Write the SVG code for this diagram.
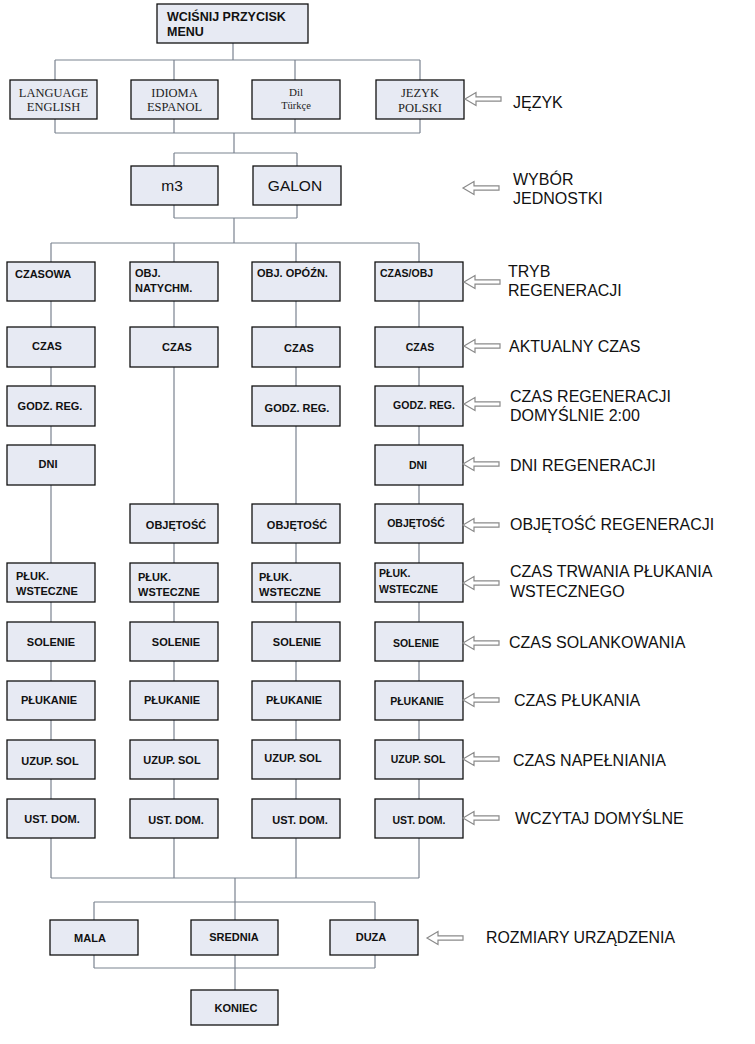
<svg xmlns="http://www.w3.org/2000/svg" xmlns:xlink="http://www.w3.org/1999/xlink" width="755" height="1044" viewBox="0 0 755 1044">
<style>
.b{fill:#e7eaf3;stroke:#111;stroke-width:1.3}
.t{font-family:"Liberation Sans",Arial,sans-serif;font-weight:bold;font-size:11px;fill:#111}
.c{text-anchor:middle}
.s{font-family:"Liberation Serif","Times New Roman",serif;font-size:12.5px;fill:#222;text-anchor:middle}
.u{font-family:"Liberation Sans",Arial,sans-serif;font-size:15.5px;fill:#111;text-anchor:middle}
.l{font-family:"Liberation Sans",Arial,sans-serif;font-size:16px;fill:#111}
.w{fill:none;stroke:#7b8390;stroke-width:1.2}
.a{fill:#fff;stroke:#8a8a8a;stroke-width:1.2}
</style>
<defs>
<polygon id="arr" class="a" points="0,0 11,-6.5 11,-2.2 36,-2.2 36,2.2 11,2.2 11,6.5"/>
</defs>
<rect width="755" height="1044" fill="#fff"/>
<g id="connectors">
<path class="w" d="M233,43V60M55,60H420M55,60V80M174,60V80M295,60V80M420,60V80"/>
<path class="w" d="M55,119V133M174,119V133M295,119V133M420,119V133M55,133H420M234,133V153M174,153H297M174,153V166M297,153V166"/>
<path class="w" d="M174,205V218M297,205V218M174,218H297M234,218V243M51,243H419"/>
<path class="w" d="M51,243V878M174,243V878M296,243V878M419,243V878M51,878H419"/>
<path class="w" d="M235,878V902M94,902H375M94,902V920M235,902V920M375,902V920M94,955V968M375,955V968M94,968H375M235,955V990"/>
</g>
<g id="n-menu"><rect class="b" x="157" y="4" width="151" height="39"/><text class="t" style="font-size:12.5px" x="167" y="21">WCIŚNIJ PRZYCISK</text><text class="t" style="font-size:12.5px" x="167" y="36">MENU</text></g>
<g id="n-en"><rect class="b" x="10" y="80" width="87" height="39"/><text class="s" x="53.5" y="97">LANGUAGE</text><text class="s" x="53.5" y="111">ENGLISH</text></g>
<g id="n-es"><rect class="b" x="131" y="80" width="87" height="39"/><text class="s" x="174.5" y="97">IDIOMA</text><text class="s" x="174.5" y="111">ESPANOL</text></g>
<g id="n-tr"><rect class="b" x="252" y="80" width="88" height="39"/><text class="s" style="font-size:11px" x="296" y="96">Dil</text><text class="s" style="font-size:10.5px" x="296" y="109">Türkçe</text></g>
<g id="n-pl"><rect class="b" x="376" y="80" width="88" height="39"/><text class="s" x="420" y="97">JEZYK</text><text class="s" x="420" y="112">POLSKI</text></g>
<g id="n-m3"><rect class="b" x="131" y="166" width="87" height="39"/><text class="u" x="172" y="191">m3</text></g>
<g id="n-galon"><rect class="b" x="253" y="166" width="88" height="39"/><text class="u" x="295" y="191">GALON</text></g>
<g id="c1-1"><rect class="b" x="7" y="262" width="88" height="39"/><text class="t" x="15" y="278">CZASOWA</text></g>
<g id="c1-2"><rect class="b" x="7" y="327" width="88" height="40"/><text class="t c" x="47" y="350">CZAS</text></g>
<g id="c1-3"><rect class="b" x="7" y="386" width="88" height="40"/><text class="t c" x="50" y="410">GODZ. REG.</text></g>
<g id="c1-4"><rect class="b" x="7" y="445" width="88" height="40"/><text class="t c" x="48" y="468">DNI</text></g>
<g id="c1-6"><rect class="b" x="7" y="563" width="88" height="39"/><text class="t" x="16" y="580">PŁUK.</text><text class="t" x="16" y="595">WSTECZNE</text></g>
<g id="c1-7"><rect class="b" x="7" y="622" width="88" height="39"/><text class="t c" x="51" y="646">SOLENIE</text></g>
<g id="c1-8"><rect class="b" x="7" y="681" width="88" height="39"/><text class="t c" x="49" y="704">PŁUKANIE</text></g>
<g id="c1-9"><rect class="b" x="7" y="740" width="88" height="39"/><text class="t c" x="50" y="765">UZUP. SOL</text></g>
<g id="c1-10"><rect class="b" x="7" y="799" width="88" height="39"/><text class="t c" x="52" y="823">UST. DOM.</text></g>
<g id="c2-1"><rect class="b" x="130" y="262" width="88" height="39"/><text class="t" x="135" y="277">OBJ.</text><text class="t" x="135" y="292">NATYCHM.</text></g>
<g id="c2-2"><rect class="b" x="130" y="327" width="88" height="40"/><text class="t c" x="177" y="351">CZAS</text></g>
<g id="c2-5"><rect class="b" x="130" y="504" width="88" height="39"/><text class="t c" x="176" y="529">OBJĘTOŚĆ</text></g>
<g id="c2-6"><rect class="b" x="130" y="563" width="88" height="39"/><text class="t" x="138" y="581">PŁUK.</text><text class="t" x="138" y="596">WSTECZNE</text></g>
<g id="c2-7"><rect class="b" x="130" y="622" width="88" height="39"/><text class="t c" x="176" y="646">SOLENIE</text></g>
<g id="c2-8"><rect class="b" x="130" y="681" width="88" height="39"/><text class="t c" x="172" y="704">PŁUKANIE</text></g>
<g id="c2-9"><rect class="b" x="130" y="740" width="88" height="39"/><text class="t c" x="172" y="764">UZUP. SOL</text></g>
<g id="c2-10"><rect class="b" x="130" y="799" width="88" height="39"/><text class="t c" x="176" y="824">UST. DOM.</text></g>
<g id="c3-1"><rect class="b" x="252" y="262" width="88" height="39"/><text class="t" x="257" y="277">OBJ. OPÓŹN.</text></g>
<g id="c3-2"><rect class="b" x="252" y="327" width="88" height="40"/><text class="t c" x="299" y="352">CZAS</text></g>
<g id="c3-3"><rect class="b" x="252" y="386" width="88" height="40"/><text class="t c" x="297" y="412">GODZ. REG.</text></g>
<g id="c3-5"><rect class="b" x="252" y="504" width="88" height="39"/><text class="t c" x="297" y="529">OBJĘTOŚĆ</text></g>
<g id="c3-6"><rect class="b" x="252" y="563" width="88" height="39"/><text class="t" x="259" y="581">PŁUK.</text><text class="t" x="259" y="596">WSTECZNE</text></g>
<g id="c3-7"><rect class="b" x="252" y="622" width="88" height="39"/><text class="t c" x="297" y="646">SOLENIE</text></g>
<g id="c3-8"><rect class="b" x="252" y="681" width="88" height="39"/><text class="t c" x="294" y="704">PŁUKANIE</text></g>
<g id="c3-9"><rect class="b" x="252" y="740" width="88" height="39"/><text class="t c" x="293" y="762">UZUP. SOL</text></g>
<g id="c3-10"><rect class="b" x="252" y="799" width="88" height="39"/><text class="t c" x="300" y="824">UST. DOM.</text></g>
<g id="c4-1"><rect class="b" x="375" y="262" width="88" height="39"/><text class="t" style="font-size:10.5px" x="380" y="277">CZAS/OBJ</text></g>
<g id="c4-2"><rect class="b" x="375" y="327" width="88" height="40"/><text class="t c" style="font-size:10.5px" x="420" y="351">CZAS</text></g>
<g id="c4-3"><rect class="b" x="375" y="386" width="88" height="40"/><text class="t c" style="font-size:10.5px" x="424" y="409">GODZ. REG.</text></g>
<g id="c4-4"><rect class="b" x="375" y="445" width="88" height="40"/><text class="t c" style="font-size:10.5px" x="418" y="469">DNI</text></g>
<g id="c4-5"><rect class="b" x="375" y="504" width="88" height="39"/><text class="t c" style="font-size:10.5px" x="416" y="527">OBJĘTOŚĆ</text></g>
<g id="c4-6"><rect class="b" x="375" y="563" width="88" height="39"/><text class="t" style="font-size:10.5px" x="379" y="577">PŁUK.</text><text class="t" style="font-size:10.5px" x="379" y="593">WSTECZNE</text></g>
<g id="c4-7"><rect class="b" x="375" y="622" width="88" height="39"/><text class="t c" style="font-size:10.5px" x="416" y="647">SOLENIE</text></g>
<g id="c4-8"><rect class="b" x="375" y="681" width="88" height="39"/><text class="t c" style="font-size:10.5px" x="417" y="705">PŁUKANIE</text></g>
<g id="c4-9"><rect class="b" x="375" y="740" width="88" height="39"/><text class="t c" style="font-size:10.5px" x="418" y="763">UZUP. SOL</text></g>
<g id="c4-10"><rect class="b" x="375" y="799" width="88" height="39"/><text class="t c" style="font-size:10.5px" x="419" y="824">UST. DOM.</text></g>
<g id="n-mala"><rect class="b" x="50" y="920" width="88" height="35"/><text class="t c" x="90" y="942">MALA</text></g>
<g id="n-srednia"><rect class="b" x="191" y="920" width="87" height="35"/><text class="t c" x="234" y="941">SREDNIA</text></g>
<g id="n-duza"><rect class="b" x="330" y="920" width="88" height="35"/><text class="t c" x="371" y="941">DUZA</text></g>
<g id="n-koniec"><rect class="b" x="191" y="990" width="87" height="35"/><text class="t c" x="236" y="1012">KONIEC</text></g>
<g id="labels">
<use xlink:href="#arr" x="465" y="99"/><text class="l" x="513" y="108">JĘZYK</text>
<use xlink:href="#arr" x="463" y="188"/><text class="l" x="513" y="185">WYBÓR</text><text class="l" x="513" y="204">JEDNOSTKI</text>
<use xlink:href="#arr" x="464" y="282"/><text class="l" x="508" y="277">TRYB</text><text class="l" x="508" y="296">REGENERACJI</text>
<use xlink:href="#arr" x="464" y="346"/><text class="l" x="509" y="352">AKTUALNY CZAS</text>
<use xlink:href="#arr" x="464" y="404"/><text class="l" x="510" y="402">CZAS REGENERACJI</text><text class="l" x="510" y="421">DOMYŚLNIE 2:00</text>
<use xlink:href="#arr" x="463" y="464"/><text class="l" x="510" y="471">DNI REGENERACJI</text>
<use xlink:href="#arr" x="463" y="525"/><text class="l" x="510" y="530">OBJĘTOŚĆ REGENERACJI</text>
<use xlink:href="#arr" x="463" y="583"/><text class="l" x="510" y="577">CZAS TRWANIA PŁUKANIA</text><text class="l" x="510" y="597">WSTECZNEGO</text>
<use xlink:href="#arr" x="463" y="643"/><text class="l" x="509" y="648">CZAS SOLANKOWANIA</text>
<use xlink:href="#arr" x="463" y="700"/><text class="l" x="514" y="706">CZAS PŁUKANIA</text>
<use xlink:href="#arr" x="463" y="759"/><text class="l" x="513" y="766">CZAS NAPEŁNIANIA</text>
<use xlink:href="#arr" x="463" y="818"/><text class="l" x="515" y="824">WCZYTAJ DOMYŚLNE</text>
<use xlink:href="#arr" x="427" y="938"/><text class="l" x="486" y="943" textLength="189" lengthAdjust="spacingAndGlyphs">ROZMIARY URZĄDZENIA</text>
</g>
</svg>
